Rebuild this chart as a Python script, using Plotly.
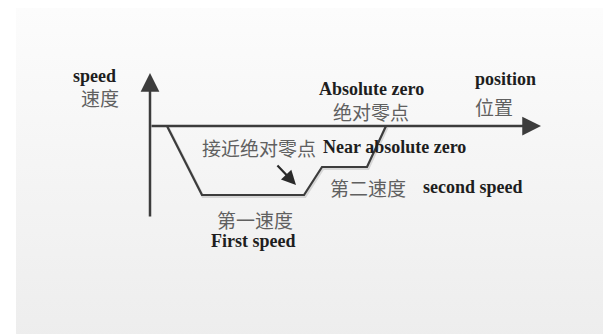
import plotly.graph_objects as go

# ---- data (position / speed units, origin at axis crossing) ----
profile_position = [17, 52, 154, 172, 217, 236]
profile_speed = [0, -69, -69, -41, -41, 0]

axis_position_end = 391
axis_speed_top = 53
axis_speed_bottom = -92

pointer_from = (126, -38)
pointer_to = (146, -59)

x_range = [-142, 469]
y_range = [-216, 118]

EN = "Liberation Serif"
ZH = "Noto Sans CJK SC"
en_color = "#1e1e1e"
zh_color = "#606060"
line_color = "#3c3c3c"

fig = go.Figure()

# background panel (light vertical gradient)
fig.add_trace(go.Scatter(
    x=[-134, 469, 469, -134, -134], y=[118, 118, -216, -216, 118],
    fill="toself", mode="none", hoverinfo="skip", showlegend=False,
    fillgradient=dict(type="vertical",
                      colorscale=[[0, "#ededed"], [1, "#fcfcfc"]]),
))

# profile shadow + line
fig.add_trace(go.Scatter(
    x=[p + 1 for p in profile_position], y=[s - 1.5 for s in profile_speed],
    mode="lines", line=dict(color="rgba(0,0,0,0.12)", width=3),
    hoverinfo="skip", showlegend=False))
fig.add_trace(go.Scatter(
    x=profile_position, y=profile_speed, mode="lines",
    line=dict(color=line_color, width=2.2), hoverinfo="skip", showlegend=False))

# axes as arrows
fig.add_annotation(x=0, y=axis_speed_top, ax=0, ay=axis_speed_bottom,
                   xref="x", yref="y", axref="x", ayref="y", text="",
                   showarrow=True, arrowhead=2, arrowsize=1.5, arrowwidth=2.5,
                   arrowcolor=line_color)
fig.add_annotation(x=axis_position_end, y=0, ax=0, ay=0,
                   xref="x", yref="y", axref="x", ayref="y", text="",
                   showarrow=True, arrowhead=2, arrowsize=1.5, arrowwidth=2.5,
                   arrowcolor=line_color)
# pointer arrow
fig.add_annotation(x=pointer_to[0], y=pointer_to[1], ax=pointer_from[0], ay=pointer_from[1],
                   xref="x", yref="y", axref="x", ayref="y", text="",
                   showarrow=True, arrowhead=2, arrowsize=1.3, arrowwidth=2.2,
                   arrowcolor="#2a2a2a")

labels = [
    ("speed", -56, 50, "center", EN, 18, en_color, True),
    ("速度", -50, 29, "center", ZH, 19, zh_color, False),
    ("Absolute zero", 221, 37, "center", EN, 18, en_color, True),
    ("绝对零点", 221, 15, "center", ZH, 19, zh_color, False),
    ("position", 323, 47, "left", EN, 18, en_color, True),
    ("位置", 323, 20, "left", ZH, 19, zh_color, False),
    ("接近绝对零点", 50, -21, "left", ZH, 19, zh_color, False),
    ("Near absolute zero", 171, -21, "left", EN, 18, en_color, True),
    ("第二速度", 178, -61, "left", ZH, 19, zh_color, False),
    ("second speed", 271, -61, "left", EN, 18, en_color, True),
    ("第一速度", 105, -93, "center", ZH, 19, zh_color, False),
    ("First speed", 103, -115, "center", EN, 18, en_color, True),
]
for txt, x, y, anchor, fam, size, col, bold in labels:
    fig.add_annotation(x=x, y=y, xref="x", yref="y", showarrow=False,
                       text=f"<b>{txt}</b>" if bold else txt,
                       xanchor=anchor, yanchor="middle",
                       font=dict(family=fam, size=size, color=col))

fig.update_layout(
    width=611, height=334, margin=dict(l=0, r=0, t=0, b=0),
    paper_bgcolor="#ffffff", plot_bgcolor="rgba(0,0,0,0)",
    xaxis=dict(range=x_range, visible=False, fixedrange=True),
    yaxis=dict(range=y_range, visible=False, fixedrange=True),
    showlegend=False,
)
fig.write_html("out.html")
